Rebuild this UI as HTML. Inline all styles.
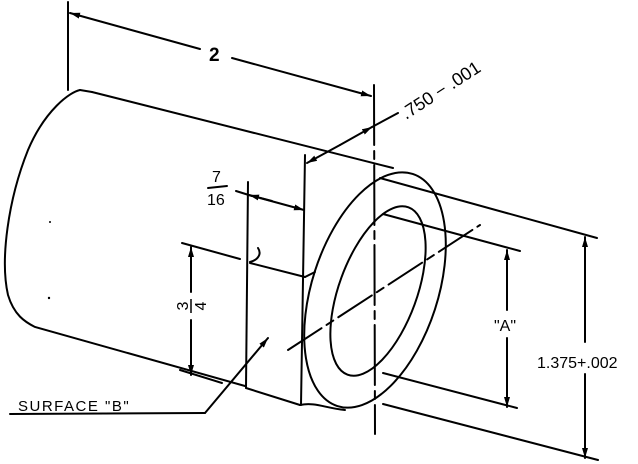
<!DOCTYPE html>
<html><head><style>html,body{margin:0;padding:0;background:#fff}svg{display:block}</style></head>
<body>
<svg width="638" height="464" viewBox="0 0 638 464" xmlns="http://www.w3.org/2000/svg">
<defs>
<marker id="ar" viewBox="0 0 10 6" refX="10" refY="3" markerWidth="10" markerHeight="6" markerUnits="userSpaceOnUse" orient="auto"><path d="M0,0 L10,3 L0,6 z" fill="#000"/></marker>
</defs>
<g stroke="#000" stroke-width="2" fill="none" stroke-linecap="round">
<line x1="68" y1="2" x2="68" y2="90"/>
<line x1="200" y1="49" x2="70" y2="13" marker-end="url(#ar)"/>
<line x1="232" y1="58" x2="371" y2="96" marker-end="url(#ar)"/>
<line x1="374" y1="85" x2="375" y2="434" stroke-dasharray="60,6,8,6"/>
<path d="M80,90 C70,92 45,110 28,150 C8,200 0,260 8,295 C14,315 25,322 35,327 L245,386"/>
<line x1="80" y1="90" x2="92" y2="92"/>
<line x1="92" y1="92" x2="393" y2="168"/>
<line x1="248" y1="182" x2="246" y2="388"/>
<line x1="305" y1="155" x2="301" y2="405"/>
<line x1="250" y1="263" x2="305" y2="277"/>
<line x1="305" y1="277" x2="315" y2="272"/>
<line x1="246" y1="388" x2="300" y2="405"/>
<path d="M300,405 C315,402 325,408 345,410"/>
<path d="M258,248 C262,254 258,260 250,262"/>
<line x1="182" y1="243" x2="240" y2="259"/>
<line x1="180" y1="370" x2="222" y2="383"/>
<line x1="191" y1="292" x2="191" y2="247" marker-end="url(#ar)"/>
<line x1="191" y1="320" x2="191" y2="375" marker-end="url(#ar)"/>
<line x1="236" y1="191" x2="252" y2="196"/>
<line x1="260" y1="198" x2="304" y2="210" marker-end="url(#ar)"/>
<line x1="272" y1="201" x2="249" y2="195" marker-end="url(#ar)"/>
<line x1="208" y1="188" x2="227" y2="186"/>
<line x1="340" y1="145" x2="307" y2="163" marker-end="url(#ar)"/>
<line x1="340" y1="145" x2="372" y2="127" marker-end="url(#ar)"/>
<line x1="372" y1="127" x2="398" y2="113"/>
<line x1="205" y1="413" x2="268" y2="338" marker-end="url(#ar)"/>
<line x1="205" y1="413" x2="10" y2="414"/>
<ellipse cx="375" cy="290" rx="63" ry="122" transform="rotate(18 375 290)"/>
<ellipse cx="378" cy="291" rx="39" ry="89" transform="rotate(20 378 291)"/>
<line x1="288" y1="350" x2="480" y2="225" stroke-dasharray="40,6,8,6"/>
<line x1="380" y1="178" x2="597" y2="238"/>
<line x1="383" y1="214" x2="520" y2="251"/>
<line x1="383" y1="373" x2="517" y2="408"/>
<line x1="383" y1="404" x2="598" y2="460"/>
<line x1="507" y1="310" x2="507" y2="250" marker-end="url(#ar)"/>
<line x1="507" y1="338" x2="507" y2="407" marker-end="url(#ar)"/>
<line x1="585" y1="342" x2="585" y2="237" marker-end="url(#ar)"/>
<line x1="585" y1="374" x2="585" y2="458" marker-end="url(#ar)"/>
</g>
<circle cx="50" cy="222" r="1" fill="#000"/><circle cx="49" cy="298" r="1.2" fill="#000"/>
<g font-family="Liberation Sans, sans-serif" fill="#000">
<text x="209" y="61" font-size="19" font-weight="bold">2</text>
<text x="212" y="182" font-size="16">7</text>
<text x="207" y="205" font-size="16">16</text>
<g transform="translate(191,306) rotate(-90)"><text x="0" y="-3" font-size="16" text-anchor="middle">3</text><text x="0" y="15" font-size="16" text-anchor="middle">4</text><line x1="-7" y1="0" x2="7" y2="0" stroke="#000" stroke-width="1.5"/></g>
<text transform="translate(406,120) rotate(-33)" font-size="18">.750 − .001</text>
<text x="494" y="331" font-size="16">"A"</text>
<text x="537" y="368" font-size="16">1.375+.002</text>
<text x="18" y="411" font-size="15" letter-spacing="1.5">SURFACE "B"</text>
</g>
</svg>
</body></html>
